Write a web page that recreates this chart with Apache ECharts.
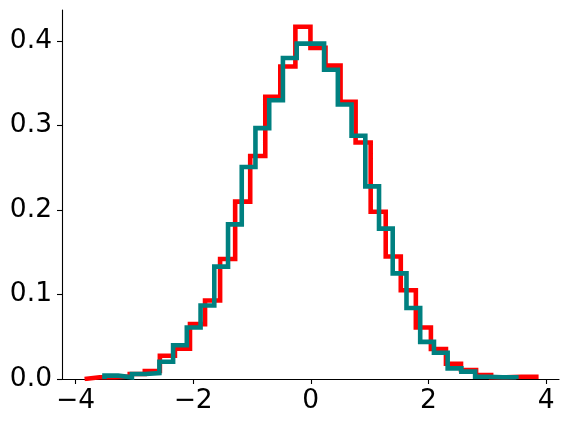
<!DOCTYPE html>
<html>
<head>
<meta charset="utf-8">
<script src="https://cdn.jsdelivr.net/npm/echarts@6/dist/echarts.min.js"></script>
<style>
  html, body { margin: 0; padding: 0; background: #fff; }
  #chart { width: 567px; height: 425px; }
</style>
</head>
<body>
<div id="chart"></div>
<script>
// bin edges (30 bins each) and density heights
const redEdges = [-3.846, -3.590, -3.334, -3.078, -2.822, -2.566, -2.310, -2.054, -1.798, -1.542,
  -1.286, -1.030, -0.774, -0.518, -0.262, -0.006, 0.250, 0.506, 0.762, 1.018,
  1.274, 1.530, 1.786, 2.042, 2.298, 2.554, 2.810, 3.066, 3.322, 3.578, 3.834];
const redHeights = [0.002, 0.002, 0.003, 0.006, 0.0095, 0.0275, 0.036, 0.065, 0.093, 0.142,
  0.210, 0.264, 0.334, 0.370, 0.417, 0.392, 0.371, 0.328, 0.280, 0.198,
  0.145, 0.105, 0.061, 0.0355, 0.018, 0.0107, 0.0047, 0.002, 0.0027, 0.0027];

const tealEdges = [-3.508, -3.275, -3.041, -2.808, -2.574, -2.341, -2.108, -1.874, -1.641, -1.407,
  -1.174, -0.941, -0.707, -0.474, -0.240, -0.007, 0.226, 0.460, 0.693, 0.927,
  1.160, 1.393, 1.627, 1.860, 2.094, 2.327, 2.560, 2.794, 3.027, 3.261, 3.494];
const tealHeights = [0.004, 0.002, 0.006, 0.007, 0.0205, 0.040, 0.061, 0.087, 0.133, 0.183,
  0.251, 0.297, 0.330, 0.380, 0.397, 0.397, 0.366, 0.325, 0.288, 0.228,
  0.178, 0.125, 0.084, 0.044, 0.031, 0.0126, 0.0087, 0.0027, 0.002, 0.002];

const xTicks = [-4, -2, 0, 2, 4];
const yTicks = [0, 0.1, 0.2, 0.3, 0.4];

// outline of a step histogram: up at the first edge, across each bin, down at the last edge
function stepOutline(edges, heights) {
  const pts = [[edges[0], 0]];
  heights.forEach((h, i) => pts.push([edges[i], h]));
  const last = edges.length - 1;
  pts.push([edges[last], heights[heights.length - 1]]);
  pts.push([edges[last], 0]);
  return pts;
}

const font = { color: "#000", fontFamily: "DejaVu Sans", fontSize: 26.5 };
const axisLine = { show: true, onZero: false, lineStyle: { color: "#000", width: 1.1 } };

const chart = echarts.init(document.getElementById("chart"), null, { renderer: "canvas" });
chart.setOption({
  animation: false,
  backgroundColor: "#fff",
  grid: { left: 62, right: 8, top: 10, bottom: 46, containLabel: false, outerBoundsMode: "none" },
  xAxis: {
    type: "value",
    min: -4.23,
    max: 4.22,
    axisLine,
    axisTick: { show: true, length: 5, customValues: xTicks, lineStyle: { color: "#000", width: 1.1 } },
    axisLabel: {
      ...font,
      margin: 9,
      customValues: xTicks,
      formatter: (v) => String(v).replace("-", "\u2212"),
    },
    splitLine: { show: false },
  },
  yAxis: {
    type: "value",
    min: 0,
    max: 0.4368,
    axisLine,
    axisTick: { show: true, length: 5, customValues: yTicks, lineStyle: { color: "#000", width: 1.1 } },
    axisLabel: {
      ...font,
      margin: 10,
      customValues: yTicks,
      formatter: (v) => v.toFixed(1),
    },
    splitLine: { show: false },
  },
  series: [
    {
      type: "line",
      step: "end",
      symbol: "none",
      data: stepOutline(redEdges, redHeights),
      lineStyle: { color: "#ff0000", width: 4.6, join: "miter", cap: "butt" },
    },
    {
      type: "line",
      step: "end",
      symbol: "none",
      data: stepOutline(tealEdges, tealHeights),
      lineStyle: { color: "#008080", width: 4.6, join: "miter", cap: "butt" },
    },
  ],
});
</script>
</body>
</html>
